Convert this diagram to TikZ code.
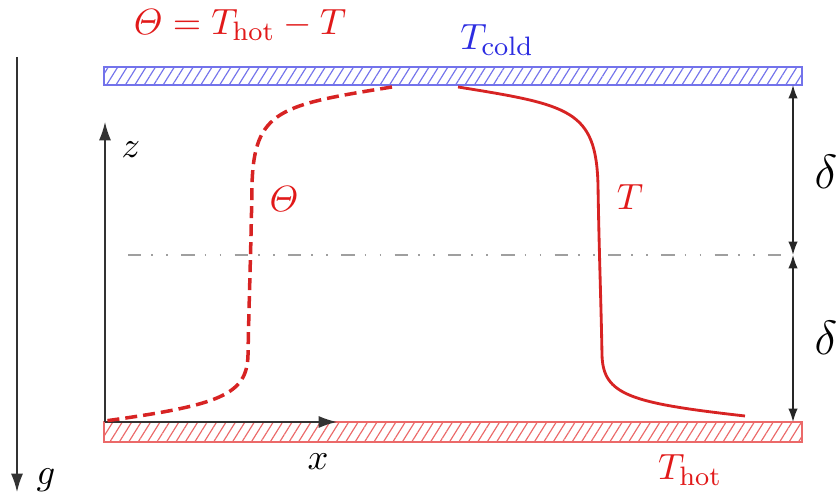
\documentclass[tikz,border=0pt,11pt]{standalone}
\usepackage{amsmath}
\usetikzlibrary{arrows.meta,patterns.meta}
\definecolor{curvered}{RGB}{215,35,35}
\definecolor{txtred}{RGB}{225,25,25}
\definecolor{txtblue}{RGB}{45,45,225}
\definecolor{coldline}{RGB}{115,115,235}
\definecolor{hotline}{RGB}{235,105,105}
\begin{document}
\begin{tikzpicture}[x=0.3pt,y=-0.3pt,
  axis/.style={draw=black!80, line width=0.45pt, -{Latex[length=5.5pt,width=3.6pt]}},
  dimarrow/.style={draw=black!85, line width=0.45pt, {Latex[length=4pt,width=2.8pt]}-{Latex[length=4pt,width=2.8pt]}},
  lbl/.style={inner sep=0pt},
  thcurve/.style={curvered, line width=1.05pt, dash pattern=on 3.6pt off 1.8pt},
  tcurve/.style={curvered, line width=0.85pt},
  midline/.style={gray!75, line width=0.4pt, dash pattern=on 4pt off 3pt on 0.5pt off 4pt on 0.5pt off 4pt},
  coldplate/.style={draw=coldline, line width=0.4pt, pattern={Lines[angle=58,distance=2.4pt,line width=0.35pt]}, pattern color=coldline},
  hotplate/.style={draw=hotline, line width=0.4pt, pattern={Lines[angle=58,distance=2.4pt,line width=0.35pt]}, pattern color=hotline}
]
\useasboundingbox (0,0) rectangle (840,497);

% plates
\path[coldplate] (104,67) rectangle (802,85);
\path[hotplate] (104,422) rectangle (802,442);

% coordinates
\coordinate (O) at (105,422);
\coordinate (zend) at (105,122);
\coordinate (xend) at (337,422);
\coordinate (g1) at (17,57);
\coordinate (g2) at (17,492);
\coordinate (dtop) at (793,85);
\coordinate (dmid) at (793,255);
\coordinate (dbot) at (793,422);
\coordinate (mlA) at (128,255);
\coordinate (mlB) at (785,255);

% mid-plane line
\draw[midline] (mlA) -- (mlB);

% axes
\draw[axis] (O) -- (zend);
\draw[axis] (O) -- (xend);
\draw[axis] (g1) -- (g2);

% dimension arrows
\draw[dimarrow] (dtop) -- (dmid);
\draw[dimarrow] (dmid) -- (dbot);

% profiles
\draw[tcurve] (458,87) .. controls (570,105) and (596,110) .. (598,185)
  .. controls (599,250) and (601,300) .. (602,355)
  .. controls (603,395) and (630,403) .. (745,416);
\draw[thcurve] (392,87) .. controls (280,105) and (254,110) .. (252,185)
  .. controls (251,250) and (249,300) .. (248,355)
  .. controls (247,395) and (220,405) .. (105,421);

% labels
\node[lbl, text=txtred] (title) at (240,25) {$\varTheta = T_{\mathrm{hot}} - T$};
\node[lbl, text=txtblue] (tcold) at (497,40) {$T_{\mathrm{cold}}$};
\node[lbl] (zl) at (131,150) {$z$};
\node[lbl, text=txtred] (thl) at (284,199) {$\varTheta$};
\node[lbl, text=txtred] (tl) at (630,197) {$T$};
\node[lbl] (d1) at (826,172) {\Large $\delta$};
\node[lbl] (d2) at (826,338) {\Large $\delta$};
\node[lbl] (xl) at (318,462) {$x$};
\node[lbl, text=txtred] (thot) at (690,470) {$T_{\mathrm{hot}}$};
\node[lbl] (gl) at (46,480) {$g$};
\end{tikzpicture}
\end{document}
